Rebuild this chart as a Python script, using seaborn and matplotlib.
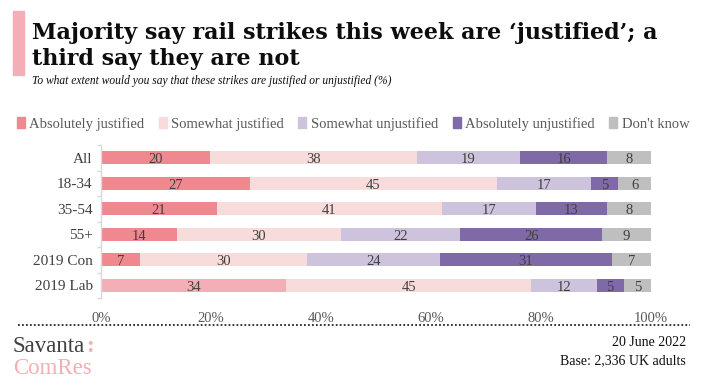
import numpy as np
import pandas as pd
import matplotlib
matplotlib.use("Agg")
import matplotlib.pyplot as plt
import seaborn as sns

groups = ["All", "18-34", "35-54", "55+", "2019 Con", "2019 Lab"]
answers = ["Absolutely justified", "Somewhat justified", "Somewhat unjustified",
           "Absolutely unjustified", "Don't know"]
abs_just = [20, 27, 21, 14, 7, 34]
some_just = [38, 45, 41, 30, 30, 45]
some_unjust = [19, 17, 17, 22, 24, 12]
abs_unjust = [16, 5, 13, 26, 31, 5]
dont_know = [8, 6, 8, 9, 7, 5]

colors = ["#f0888f", "#f8dcdc", "#cdc3dc", "#7f6aa7", "#bfbfbf"]
lab_color = "#f4aeb5"

sns.set_theme(style="white")
plt.rcParams["font.family"] = ["Liberation Serif", "DejaVu Serif"]

df = pd.DataFrame({"group": groups, answers[0]: abs_just, answers[1]: some_just,
                   answers[2]: some_unjust, answers[3]: abs_unjust, answers[4]: dont_know})

fig = plt.figure(figsize=(7.03, 3.82), dpi=100)
ax = fig.add_axes([101 / 703, 1 - 298 / 382, 550 / 703, 153 / 382])

# 100% stacked bars: shares of each row total, drawn cumulative from the back
raw = df[answers].to_numpy(dtype=float)
share = raw / raw.sum(axis=1, keepdims=True) * 100
cum = np.cumsum(share.T, axis=0)
for i in reversed(range(len(answers))):
    pal = [colors[i]] * len(groups)
    if i == 0:
        pal[-1] = lab_color
    sns.barplot(x=cum[i], y=groups, hue=groups, palette=pal, legend=False,
                orient="h", width=0.5, ax=ax, saturation=1, linewidth=0)

for i, ans in enumerate(answers):
    start = cum[i] - share[:, i]
    for j, v in enumerate(df[ans]):
        ax.text(start[j] + share[j, i] / 2, j + 0.08, str(v), ha="center", va="center",
                fontsize=10.5, color="#404040")

ax.set_xlim(0, 100)
ax.set_ylim(5.5, -0.5)
ax.set_xticks(range(0, 101, 20))
ax.set_xticklabels([f"{t}%" for t in range(0, 101, 20)], fontsize=10.5, color="#595959")
ax.set_yticks(np.arange(-0.5, 6, 1), minor=True)
ax.tick_params(axis="y", which="major", labelsize=11, colors="#404040", length=0, pad=6)
ax.tick_params(axis="y", which="minor", left=True, length=3, color="#d9d9d9", width=1)
ax.tick_params(axis="x", length=0, pad=10)
ax.set_xlabel("")
ax.set_ylabel("")
for s in ["top", "right", "bottom"]:
    ax.spines[s].set_visible(False)
ax.spines["left"].set_color("#d9d9d9")
ax.spines["left"].set_linewidth(1)

handles = [plt.Rectangle((0, 0), 1, 1, color=c) for c in colors]
fig.legend(handles, answers, loc="center", bbox_to_anchor=(353 / 703, 1 - 124 / 382), ncol=5,
           frameon=False, fontsize=10.5, handlelength=0.55, handleheight=0.8,
           handletextpad=0.3, columnspacing=1.0, labelcolor="#595959")

# header
fig.patches.append(plt.Rectangle((13 / 703, 1 - 75 / 382), 11 / 703, 64 / 382,
                                 transform=fig.transFigure, color="#f4aeb5"))
title_font = ["DejaVu Serif"]
fig.text(32 / 703, 1 - 33 / 382, "Majority say rail strikes this week are \u2018justified\u2019; a",
         fontsize=16, fontweight="bold", va="center", color="#0d0d0d", family=title_font)
fig.text(32 / 703, 1 - 59 / 382, "third say they are not",
         fontsize=16, fontweight="bold", va="center", color="#0d0d0d", family=title_font)
fig.text(32 / 703, 1 - 81 / 382,
         "To what extent would you say that these strikes are justified or unjustified (%)",
         fontsize=8.3, style="italic", va="center", color="#0d0d0d")

# footer
fig.add_artist(plt.Line2D([18 / 703, 690 / 703], [1 - 325 / 382] * 2, transform=fig.transFigure,
                          color="#262626", linestyle=(0, (1, 1.2)), linewidth=1.3))
sav = fig.text(13 / 703, 1 - 346 / 382, "Savanta", fontsize=16.5, color="#404040", va="center")
fig.canvas.draw()
bb = sav.get_window_extent()
fig.text(bb.x1 / 703 + 1 / 703, 1 - 346 / 382, ":", fontsize=16.5, color="#f4aeb5", va="center",
         fontweight="bold")
fig.text(13 / 703, 1 - 369 / 382, "ComRes", fontsize=16.5, color="#f4aeb5", va="center")
fig.text(686 / 703, 1 - 343 / 382, "20 June 2022", fontsize=10, ha="right", va="center", color="#0d0d0d")
fig.text(686 / 703, 1 - 361 / 382, "Base: 2,336 UK adults", fontsize=10, ha="right", va="center",
         color="#0d0d0d")

fig.savefig("out.png", dpi=100)
